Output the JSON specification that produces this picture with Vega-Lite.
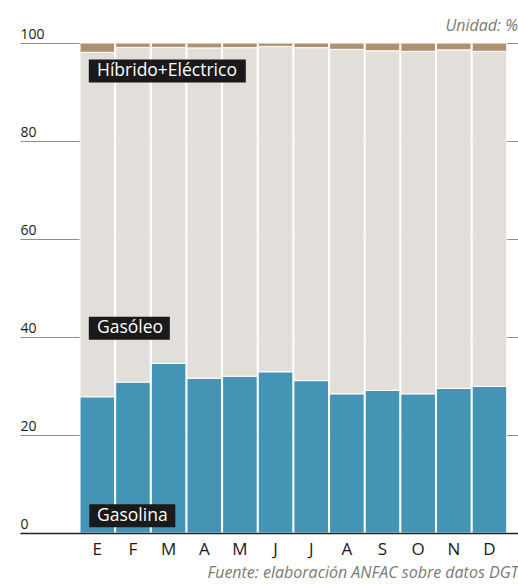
{
  "$schema": "https://vega.github.io/schema/vega-lite/v6.json",
  "width": 498,
  "height": 490,
  "autosize": "none",
  "padding": {"left": 20, "top": 43, "right": 0, "bottom": 51},
  "background": "white",
  "config": {"view": {"stroke": null}, "font": "Open Sans"},
  "title": {"text": "Unidad: %", "anchor": "end", "frame": "group", "orient": "top", "font": "Open Sans", "fontStyle": "italic", "fontWeight": "normal", "fontSize": 16, "color": "#7a7a72", "offset": -7},
  "datasets": {
    "cuota": [
      {"mes": "Ene", "tipo": "Gasolina", "pct": 27.8},
      {"mes": "Feb", "tipo": "Gasolina", "pct": 30.8},
      {"mes": "Mar", "tipo": "Gasolina", "pct": 34.6},
      {"mes": "Abr", "tipo": "Gasolina", "pct": 31.6},
      {"mes": "May", "tipo": "Gasolina", "pct": 32.0},
      {"mes": "Jun", "tipo": "Gasolina", "pct": 32.9},
      {"mes": "Jul", "tipo": "Gasolina", "pct": 31.1},
      {"mes": "Ago", "tipo": "Gasolina", "pct": 28.4},
      {"mes": "Sep", "tipo": "Gasolina", "pct": 29.1},
      {"mes": "Oct", "tipo": "Gasolina", "pct": 28.4},
      {"mes": "Nov", "tipo": "Gasolina", "pct": 29.5},
      {"mes": "Dic", "tipo": "Gasolina", "pct": 29.9},
      {"mes": "Ene", "tipo": "Gasóleo", "pct": 70.3},
      {"mes": "Feb", "tipo": "Gasóleo", "pct": 68.3},
      {"mes": "Mar", "tipo": "Gasóleo", "pct": 64.5},
      {"mes": "Abr", "tipo": "Gasóleo", "pct": 67.4},
      {"mes": "May", "tipo": "Gasóleo", "pct": 67.05},
      {"mes": "Jun", "tipo": "Gasóleo", "pct": 66.4},
      {"mes": "Jul", "tipo": "Gasóleo", "pct": 67.95},
      {"mes": "Ago", "tipo": "Gasóleo", "pct": 70.3},
      {"mes": "Sep", "tipo": "Gasóleo", "pct": 69.3},
      {"mes": "Oct", "tipo": "Gasóleo", "pct": 69.9},
      {"mes": "Nov", "tipo": "Gasóleo", "pct": 69.1},
      {"mes": "Dic", "tipo": "Gasóleo", "pct": 68.4},
      {"mes": "Ene", "tipo": "Híbrido+Eléctrico", "pct": 1.9},
      {"mes": "Feb", "tipo": "Híbrido+Eléctrico", "pct": 0.9},
      {"mes": "Mar", "tipo": "Híbrido+Eléctrico", "pct": 0.9},
      {"mes": "Abr", "tipo": "Híbrido+Eléctrico", "pct": 1.0},
      {"mes": "May", "tipo": "Híbrido+Eléctrico", "pct": 0.95},
      {"mes": "Jun", "tipo": "Híbrido+Eléctrico", "pct": 0.7},
      {"mes": "Jul", "tipo": "Híbrido+Eléctrico", "pct": 0.95},
      {"mes": "Ago", "tipo": "Híbrido+Eléctrico", "pct": 1.3},
      {"mes": "Sep", "tipo": "Híbrido+Eléctrico", "pct": 1.6},
      {"mes": "Oct", "tipo": "Híbrido+Eléctrico", "pct": 1.7},
      {"mes": "Nov", "tipo": "Híbrido+Eléctrico", "pct": 1.4},
      {"mes": "Dic", "tipo": "Híbrido+Eléctrico", "pct": 1.7}
    ],
    "etiquetas": [
      {"etiqueta": "Híbrido+Eléctrico", "mes": "Ene", "valor": 94.3},
      {"etiqueta": "Gasóleo", "mes": "Ene", "valor": 41.8},
      {"etiqueta": "Gasolina", "mes": "Ene", "valor": 3.5}
    ]
  },
  "layer": [
    {
      "data": {"name": "cuota"},
      "mark": {"type": "bar", "stroke": "white", "strokeWidth": 1},
      "encoding": {
        "x": {
          "field": "mes", "type": "nominal",
          "sort": ["Ene","Feb","Mar","Abr","May","Jun","Jul","Ago","Sep","Oct","Nov","Dic"],
          "scale": {"domain": ["Ene","Feb","Mar","Abr","May","Jun","Jul","Ago","Sep","Oct","Nov","Dic"], "paddingInner": 0.03, "paddingOuter": 1, "align": 0.842},
          "axis": {
            "title": "Fuente: elaboración ANFAC sobre datos DGT",
            "titleAnchor": "end",
            "titleFontStyle": "italic", "titleFontWeight": "normal", "titleColor": "#7a7a72", "titleFontSize": 16, "titlePadding": 7, "titleFont": "Open Sans",
            "labelExpr": "substring(datum.label, 0, 1)",
            "labelFontSize": 17, "labelColor": "#1a1a1a", "labelPadding": 8, "labelAngle": 0, "labelFont": "Open Sans", "labelFontWeight": 500,
            "ticks": false, "domainColor": "#222222", "domainWidth": 1.5, "zindex": 1
          }
        },
        "y": {
          "field": "pct", "type": "quantitative", "stack": "zero",
          "scale": {"domain": [0, 100], "nice": false},
          "axis": {
            "title": null, "values": [0, 20, 40, 60, 80, 100],
            "grid": true, "gridColor": "#8f8f87", "gridWidth": 1,
            "domain": false, "ticks": false, "tickSize": 0,
            "labelAlign": "left", "labelBaseline": "bottom", "labelPadding": 0, "labelOffset": -2,
            "labelFontSize": 14, "labelColor": "#1a1a1a", "labelFont": "Open Sans", "labelFontWeight": 500, "zindex": 0
          }
        },
        "color": {
          "field": "tipo", "type": "nominal",
          "scale": {"domain": ["Gasolina", "Gasóleo", "Híbrido+Eléctrico"], "range": ["#4394B5", "#E2DFDA", "#AF9071"]},
          "legend": null
        },
        "order": {"field": "tipo", "sort": "ascending"}
      }
    },
    {
      "data": {"name": "etiquetas"},
      "transform": [{"filter": "datum.etiqueta == 'Híbrido+Eléctrico'"}],
      "mark": {"type": "bar", "color": "#1a1a1a", "width": 157, "xOffset": 70, "yOffset": 11.5, "y2Offset": -11.5},
      "encoding": {
        "x": {"field": "mes", "type": "nominal"},
        "y": {"field": "valor", "type": "quantitative"},
        "y2": {"field": "valor"}
      }
    },
    {
      "data": {"name": "etiquetas"},
      "transform": [{"filter": "datum.etiqueta == 'Gasóleo'"}],
      "mark": {"type": "bar", "color": "#1a1a1a", "width": 81, "xOffset": 32, "yOffset": 11.5, "y2Offset": -11.5},
      "encoding": {
        "x": {"field": "mes", "type": "nominal"},
        "y": {"field": "valor", "type": "quantitative"},
        "y2": {"field": "valor"}
      }
    },
    {
      "data": {"name": "etiquetas"},
      "transform": [{"filter": "datum.etiqueta == 'Gasolina'"}],
      "mark": {"type": "bar", "color": "#1a1a1a", "width": 86, "xOffset": 35, "yOffset": 11.5, "y2Offset": -11.5},
      "encoding": {
        "x": {"field": "mes", "type": "nominal"},
        "y": {"field": "valor", "type": "quantitative"},
        "y2": {"field": "valor"}
      }
    },
    {
      "data": {"name": "etiquetas"},
      "mark": {"type": "text", "align": "left", "baseline": "middle", "dx": 17, "color": "white", "fontSize": 17.5, "font": "Open Sans"},
      "encoding": {
        "x": {"field": "mes", "type": "nominal", "bandPosition": 0},
        "y": {"field": "valor", "type": "quantitative"},
        "text": {"field": "etiqueta"}
      }
    }
  ]
}
